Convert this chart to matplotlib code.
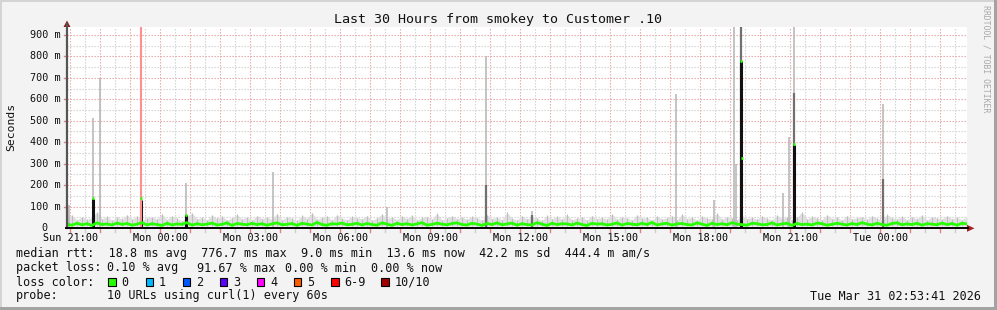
import matplotlib
matplotlib.use('Agg')
import matplotlib.pyplot as plt
import numpy as np
from matplotlib.patches import Rectangle, Polygon
from matplotlib.transforms import Affine2D, blended_transform_factory

# ---------------- data ----------------
# minutes since window start (Sun 20:53:41), 10-minute samples
step_min = 10
median_ms = [
    18,13,22,15,20,12,24,16,19,14,23,17,21,13,18,25,14,20,16,12,
    22,14,19,17,25,13,20,15,18,23,14,17,24,12,21,18,15,22,16,20,
    13,19,24,15,17,21,12,22,18,14,26,16,13,20,18,23,15,17,22,14,
    21,16,13,24,18,12,22,16,20,14,19,25,13,17,22,18,15,21,24,16,
    14,22,18,12,21,16,24,15,19,23,13,20,16,14,25,18,12,22,16,20,
    19,14,23,16,12,22,18,20,14,17,24,13,21,18,15,22,16,26,14,19,
    22,13,19,21,16,14,24,18,12,22,16,20,15,25,18,16,13,22,20,15,
    16,24,14,19,22,12,21,16,18,14,23,20,13,17,22,18,14,21,16,25,
    18,14,22,16,13,21,24,15,19,16,22,13,20,18,15,23,16,21,13,22,19]
smoke_hi_ms = [
    45,60,38,52,40,48,75,42,55,36,50,44,62,40,58,35,47,53,41,66,
    39,57,46,34,52,70,43,49,38,61,45,55,37,48,64,42,51,36,58,44,
    50,41,67,38,53,46,35,59,44,72,40,49,56,37,62,45,39,54,48,43,
    58,36,47,65,42,51,39,56,44,60,38,49,53,41,68,37,46,57,43,50,
    40,55,48,36,62,44,51,39,73,45,38,57,42,50,47,35,59,43,54,41,
    63,39,46,52,37,58,44,49,41,66,40,53,47,38,61,45,50,36,55,42,
    48,57,39,64,43,51,37,55,46,42,70,40,53,47,38,59,44,50,41,56,
    45,38,60,43,52,36,49,75,41,54,47,39,62,44,51,37,58,42,48,53,
    40,57,45,36,63,48,42,55,39,50,44,61,37,53,46,41,58,43,49,39,52]
smoke_min_ms = 9.0

# spikes: time (min), light smoke top, dark-grey top, black top, median (ms)
spike_t    = [4,   52,  66,  148, 238, 412, 640, 838, 930, 1218, 1294, 1334, 1338, 1348, 1432, 1444, 1454, 1632]
spike_top  = [107, 514, 700, 682, 210, 260, 100, 800, 80,  625,  130,  937,  300,  937,  165,  425,  937,  580]
spike_mid  = [0,   0,   0,   0,   0,   0,   0,   200, 60,  0,    0,    0,    0,    937,  0,    0,    630,  230]
spike_dark = [0,   135, 0,   130, 60,  0,   0,   0,   0,   0,    0,    0,    0,    777,  0,    0,    388,  0]
spike_med  = [0,   140, 0,   140, 62,  0,   0,   0,   0,   0,    0,    0,    0,    777,  0,    0,    390,  0]
extra_med_t = [1350]
extra_med_v = [328]
loss_t = [148]

ytick_vals = [0, 100, 200, 300, 400, 500, 600, 700, 800, 900]
ytick_labels = ["0", "100 m", "200 m", "300 m", "400 m", "500 m", "600 m", "700 m", "800 m", "900 m"]
xtick_labels = ["Sun 21:00", "Mon 00:00", "Mon 03:00", "Mon 06:00", "Mon 09:00",
                "Mon 12:00", "Mon 15:00", "Mon 18:00", "Mon 21:00", "Tue 00:00"]
first_hour_min = 6.317   # Sun 21:00 relative to start
span_min = 1800

title = "Last 30 Hours from smokey to Customer .10"
legend_rtt = "median rtt:  18.8 ms avg  776.7 ms max  9.0 ms min  13.6 ms now  42.2 ms sd  444.4 m am/s"
loss_parts = ["packet loss:", "0.10 % avg", "91.67 % max", "0.00 % min", "0.00 % now"]
loss_labels = ["0", "1", "2", "3", "4", "5", "6-9", "10/10"]
loss_colors = ["#26ff00", "#00b8ff", "#0059ff", "#5e00ff", "#ff00fe", "#ff5e00", "#ff0000", "#a10000"]
probe_text = "10 URLs using curl(1) every 60s"
stamp = "Tue Mar 31 02:53:41 2026"

# ---------------- figure ----------------
W, H = 997, 310
BG = '#f3f3f3'
MONO = 'DejaVu Sans Mono'
fig = plt.figure(figsize=(W / 100, H / 100), dpi=100, facecolor=BG)
P = Affine2D().scale(1.0 / W, -1.0 / H).translate(0, 1) + fig.transFigure  # pixel coords, y down

L, R, B, T = 67, 967, 228, 27
ax = fig.add_axes([L / W, 1 - B / H, (R - L) / W, (B - T) / H])
ax.set_facecolor('white')
ax.set_xlim(0, span_min)
ax.set_ylim(0, 937)
for s in ax.spines.values():
    s.set_visible(False)

# grid
MAJ = '#e6a2a2'
MIN_ = '#cfcfcf'
grid_t = np.arange(first_hour_min, span_min, 30)
for i, gt in enumerate(grid_t):
    major = (i % 2 == 0)
    ax.axvline(gt, color=MAJ if major else MIN_, lw=0.8,
               linestyle=(0, (1.2, 1.5)), zorder=0.5)
for v in range(50, 950, 50):
    major = (v % 100 == 0)
    ax.axhline(v, color=MAJ if major else MIN_, lw=0.8,
               linestyle=(0, (1.2, 1.5)), zorder=0.5)

t = np.arange(len(median_ms)) * step_min
med = np.array(median_ms, float)
hi = np.array(smoke_hi_ms, float)

# smoke
ax.fill_between(t, smoke_min_ms, hi, color='#dedede', lw=0, zorder=1)
ax.vlines(t, smoke_min_ms, hi, color='#bcbcbc', lw=0.7, zorder=1.1)

# spikes
for st, top, mid, dk in zip(spike_t, spike_top, spike_mid, spike_dark):
    ax.vlines(st, 0, top, color='#b4b4b4', lw=1.1, zorder=1.5)
    if mid:
        ax.vlines(st, 0, mid, color='#707070', lw=1.6, zorder=1.6)
    if dk:
        ax.vlines(st, 0, dk, color='#111111', lw=2.2, zorder=1.7)

for lt in loss_t:
    ax.axvline(lt, color='#ff8f8f', lw=1.5, zorder=1.8)

# median line
ax.plot(t, med, color='#26ff00', lw=2.0, zorder=3)
for st, m in zip(spike_t + extra_med_t, spike_med + extra_med_v):
    if m:
        ax.plot([st - 1.2, st + 1.2], [m, m], color='#26ff00', lw=2.0, zorder=3.1,
                solid_capstyle='butt')

# ticks / labels
ax.set_xticks([first_hour_min + 180 * k for k in range(len(xtick_labels))], labels=xtick_labels)
ax.tick_params(axis='x', length=0, pad=3.5, labelsize=7.3)
for lab in ax.get_xticklabels():
    lab.set_family(MONO)
ax.set_yticks([])
yt = blended_transform_factory(P, ax.transData)
for v, lab in zip(ytick_vals, ytick_labels):
    xr = 60.5 if lab != "0" else 47.5
    fig.text(xr, v, lab, transform=yt, ha='right', va='center', fontsize=7.3, family=MONO, color='#111111')
    if v:
        fig.add_artist(plt.Line2D([64, 66], [v, v], transform=yt, color='#e08080', lw=1))
xt = blended_transform_factory(ax.transData, P)
for i, gt in enumerate(grid_t):
    fig.add_artist(plt.Line2D([gt, gt], [229, 231.5], transform=xt,
                              color='#e08080' if i % 2 == 0 else '#cccccc', lw=1))

# axes lines and arrows
fig.add_artist(plt.Line2D([67, 67], [228, 24], transform=P, color='#555555', lw=1.6))
fig.add_artist(plt.Line2D([66, 968], [228.3, 228.3], transform=P, color='#000000', lw=1.4))
fig.add_artist(Polygon([[63.5, 27], [70.5, 27], [67, 20.5]], closed=True, transform=P,
                       facecolor='#8e1b1b', edgecolor='none'))
fig.add_artist(Polygon([[967, 224.8], [967, 231.8], [974.5, 228.3]], closed=True, transform=P,
                       facecolor='#a12222', edgecolor='none'))

# texts
fig.text(498, 19, title, transform=P, ha='center', va='center', fontsize=9.6, family=MONO, color='#111111')
fig.text(11, 127, "Seconds", transform=P, ha='center', va='center', rotation=90, fontsize=8.2,
         family=MONO, color='#111111')
fig.text(986, 59, "RRDTOOL / TOBI OETIKER", transform=P, ha='center', va='center', rotation=270,
         fontsize=5.9, family=MONO, color='#a8a8a8')

LEG = 8.45
fig.text(15.5, 254, legend_rtt, transform=P, ha='left', va='center', fontsize=LEG, family=MONO, color='#111111')
for xp, s in zip([15.5, 106.5, 196.5, 284.5, 370.5], loss_parts):
    fig.text(xp, 268, s, transform=P, ha='left', va='center', fontsize=LEG, family=MONO, color='#111111')
fig.text(15.5, 282, "loss color:", transform=P, ha='left', va='center', fontsize=LEG, family=MONO, color='#111111')
box_x = [108, 145.5, 182.5, 219.5, 256.5, 293.5, 331, 381]
for bx, lab, col in zip(box_x, loss_labels, loss_colors):
    fig.add_artist(Rectangle((bx, 278), 7.5, 7.5, transform=P, facecolor=col,
                             edgecolor='#000000', lw=0.8))
    fig.text(bx + 13.5, 282, lab, transform=P, ha='left', va='center', fontsize=LEG, family=MONO, color='#111111')
fig.text(15.5, 296, "probe:", transform=P, ha='left', va='center', fontsize=LEG, family=MONO, color='#111111')
fig.text(106.5, 296, probe_text, transform=P, ha='left', va='center', fontsize=LEG, family=MONO, color='#111111')
fig.text(981, 296, stamp, transform=P, ha='right', va='center', fontsize=LEG, family=MONO, color='#111111')

# 3D frame
fig.add_artist(Rectangle((0, 0), W, 2, transform=P, facecolor='#d4d4d4', edgecolor='none'))
fig.add_artist(Rectangle((0, 0), 2, H, transform=P, facecolor='#d4d4d4', edgecolor='none'))
fig.add_artist(Rectangle((W - 3, 0), 3, H, transform=P, facecolor='#a3a3a3', edgecolor='none'))
fig.add_artist(Rectangle((0, H - 3), W, 3, transform=P, facecolor='#a3a3a3', edgecolor='none'))

fig.savefig('out.png', dpi=100, facecolor=BG)
